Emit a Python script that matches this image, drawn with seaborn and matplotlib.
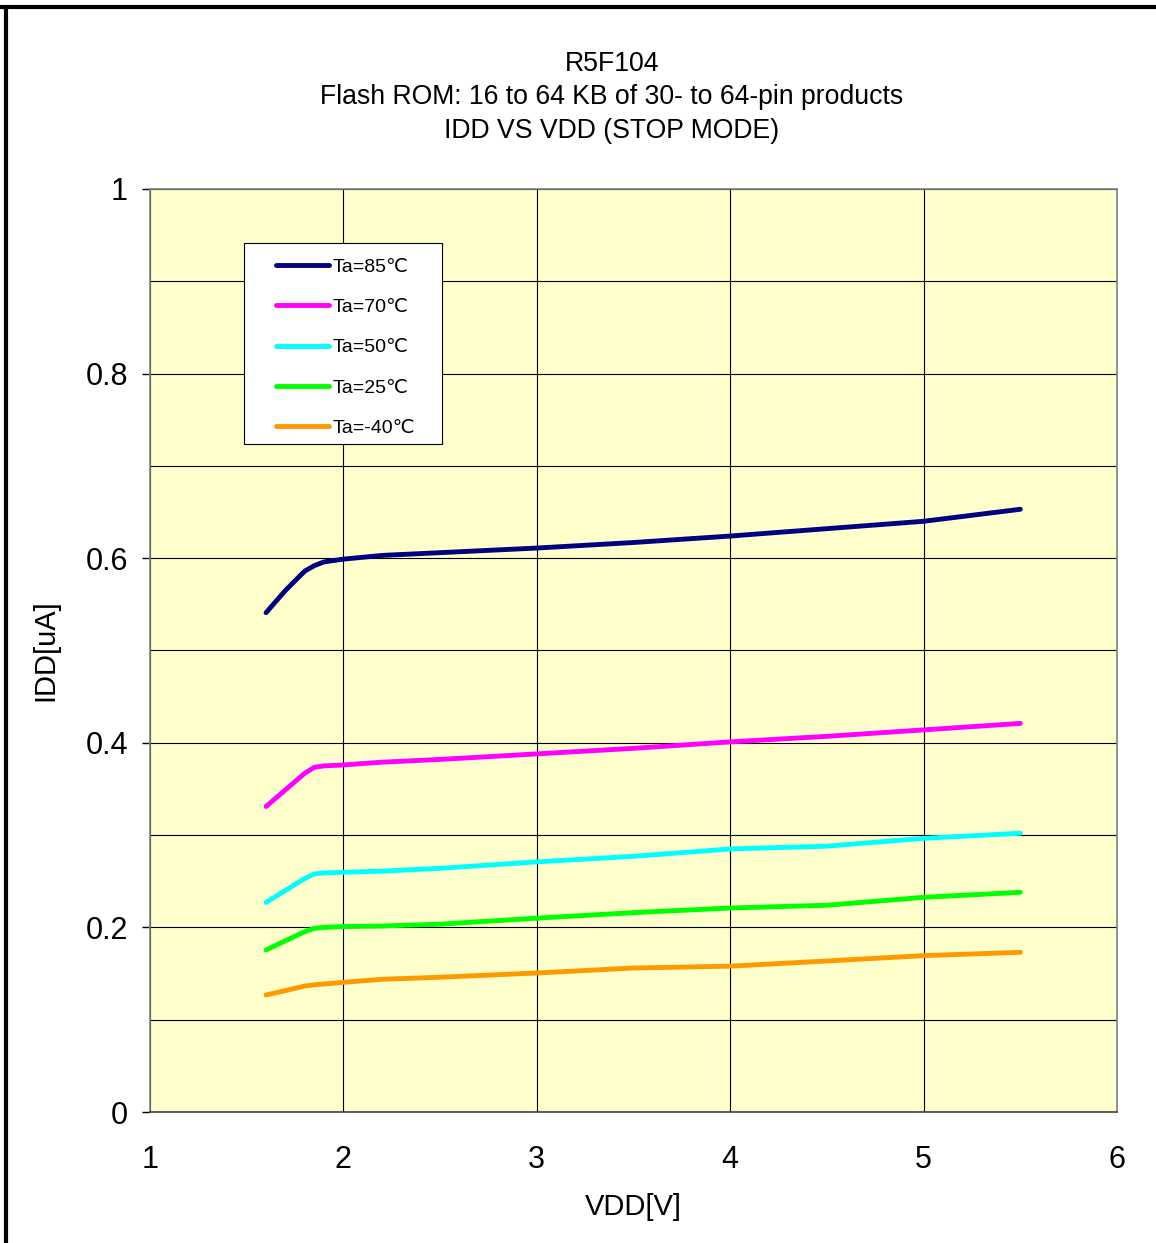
import pandas as pd
import matplotlib.pyplot as plt
import seaborn as sns
from matplotlib.lines import Line2D
from matplotlib.patches import Rectangle

sns.set_style('white')
plt.rcParams['font.family'] = ['Liberation Sans', 'DejaVu Sans']
plt.rcParams['text.color'] = 'black'
plt.rcParams['axes.labelcolor'] = 'black'
plt.rcParams['xtick.color'] = 'black'
plt.rcParams['ytick.color'] = 'black'

# supply voltage points (V)
vdd = [1.6, 1.7, 1.8, 1.85, 1.9, 2.0, 2.2, 2.5, 3.0, 3.5, 4.0, 4.5, 5.0, 5.5]

# IDD in uA for each temperature
idd_85 = [0.541, 0.565, 0.586, 0.592, 0.596, 0.599, 0.603, 0.606, 0.611, 0.617, 0.624, 0.632, 0.640, 0.653]
idd_70 = [0.331, 0.349, 0.367, 0.3735, 0.375, 0.376, 0.379, 0.382, 0.388, 0.394, 0.401, 0.407, 0.414, 0.421]
idd_50 = [0.227, 0.240, 0.253, 0.258, 0.259, 0.2597, 0.261, 0.264, 0.271, 0.277, 0.285, 0.288, 0.2965, 0.302]
idd_25 = [0.1755, 0.1855, 0.1954, 0.199, 0.200, 0.2009, 0.2015, 0.2035, 0.210, 0.216, 0.221, 0.224, 0.2326, 0.238]
idd_m40 = [0.1268, 0.1315, 0.1365, 0.1378, 0.1387, 0.1405, 0.1438, 0.146, 0.1506, 0.156, 0.158, 0.1636, 0.1694, 0.173]

labels = ['Ta=85℃', 'Ta=70℃', 'Ta=50℃', 'Ta=25℃', 'Ta=-40℃']
colors = ['#000080', '#FF00FF', '#00FFFF', '#00FF00', '#FF9900']

x_ticks = [1, 2, 3, 4, 5, 6]
y_ticks = [0, 0.2, 0.4, 0.6, 0.8, 1.0]
y_ticklabels = ['0', '0.2', '0.4', '0.6', '0.8', '1']

frames = []
for lab, vals in zip(labels, [idd_85, idd_70, idd_50, idd_25, idd_m40]):
    frames.append(pd.DataFrame({'VDD': vdd, 'IDD': vals, 'Temp': lab}))
data = pd.concat(frames, ignore_index=True)

W, H = 1156, 1243
fig = plt.figure(figsize=(W / 100, H / 100), dpi=100)
ax = fig.add_axes([150/W, 1 - 1112/H, 967/W, 923/H])
ax.set_facecolor('#FFFFCC')

sns.lineplot(data=data, x='VDD', y='IDD', hue='Temp', palette=colors,
             hue_order=labels, linewidth=3.5, sort=False, estimator=None,
             solid_capstyle='round', solid_joinstyle='round', ax=ax)

ax.set_xlim(1, 6)
ax.set_ylim(0, 1)
ax.set_xticks(x_ticks)
ax.set_yticks(y_ticks)
ax.set_yticklabels(y_ticklabels)
ax.set_yticks([0.1, 0.3, 0.5, 0.7, 0.9], minor=True)
ax.grid(True, which='both', color='black', linewidth=0.8)
ax.set_axisbelow(True)
ax.tick_params(axis='y', which='major', direction='out', length=6, width=1,
               color='black', labelsize=22, pad=10, left=True)
ax.tick_params(axis='y', which='minor', length=0)
ax.tick_params(axis='x', labelsize=22, pad=20, bottom=False)
for s in ax.spines.values():
    s.set_color('#808080')
    s.set_linewidth(1.2)
ax.spines['bottom'].set_color('#404040')

ax.set_xlabel('VDD[V]', fontsize=21, labelpad=13)
ax.set_ylabel('IDD[uA]', fontsize=21, labelpad=19)

# legend box drawn separately so the padding can differ per side
box = Rectangle(((244-150)/967, (1112-444)/923), 198/967, 201/923,
                transform=ax.transAxes, facecolor='white', edgecolor='black',
                linewidth=0.8, zorder=4)
ax.add_patch(box)
leg = ax.legend(loc='upper left', bbox_to_anchor=((276-150)/967, (1112-258)/923),
                borderaxespad=0, borderpad=0, fontsize=14, frameon=False,
                handlelength=2.7, handletextpad=0.2, labelspacing=1.17,
                title=None)
leg.set_zorder(5)
for h in leg.get_lines():
    h.set_linewidth(3.5)
    h.set_solid_capstyle('round')

fig.text(612/W, 1 - 97.5/H,
         'R5F104\nFlash ROM: 16 to 64 KB of 30- to 64-pin products\nIDD VS VDD (STOP MODE)',
         ha='center', va='center', fontsize=19.2, linespacing=1.37)

# page frame
fig.add_artist(Line2D([0, 1], [1 - 6.5/H, 1 - 6.5/H], transform=fig.transFigure,
                      color='black', linewidth=3))
fig.add_artist(Line2D([6/W, 6/W], [0, 1 - 6.5/H], transform=fig.transFigure,
                      color='black', linewidth=3))

plt.savefig('out.png', dpi=100)
